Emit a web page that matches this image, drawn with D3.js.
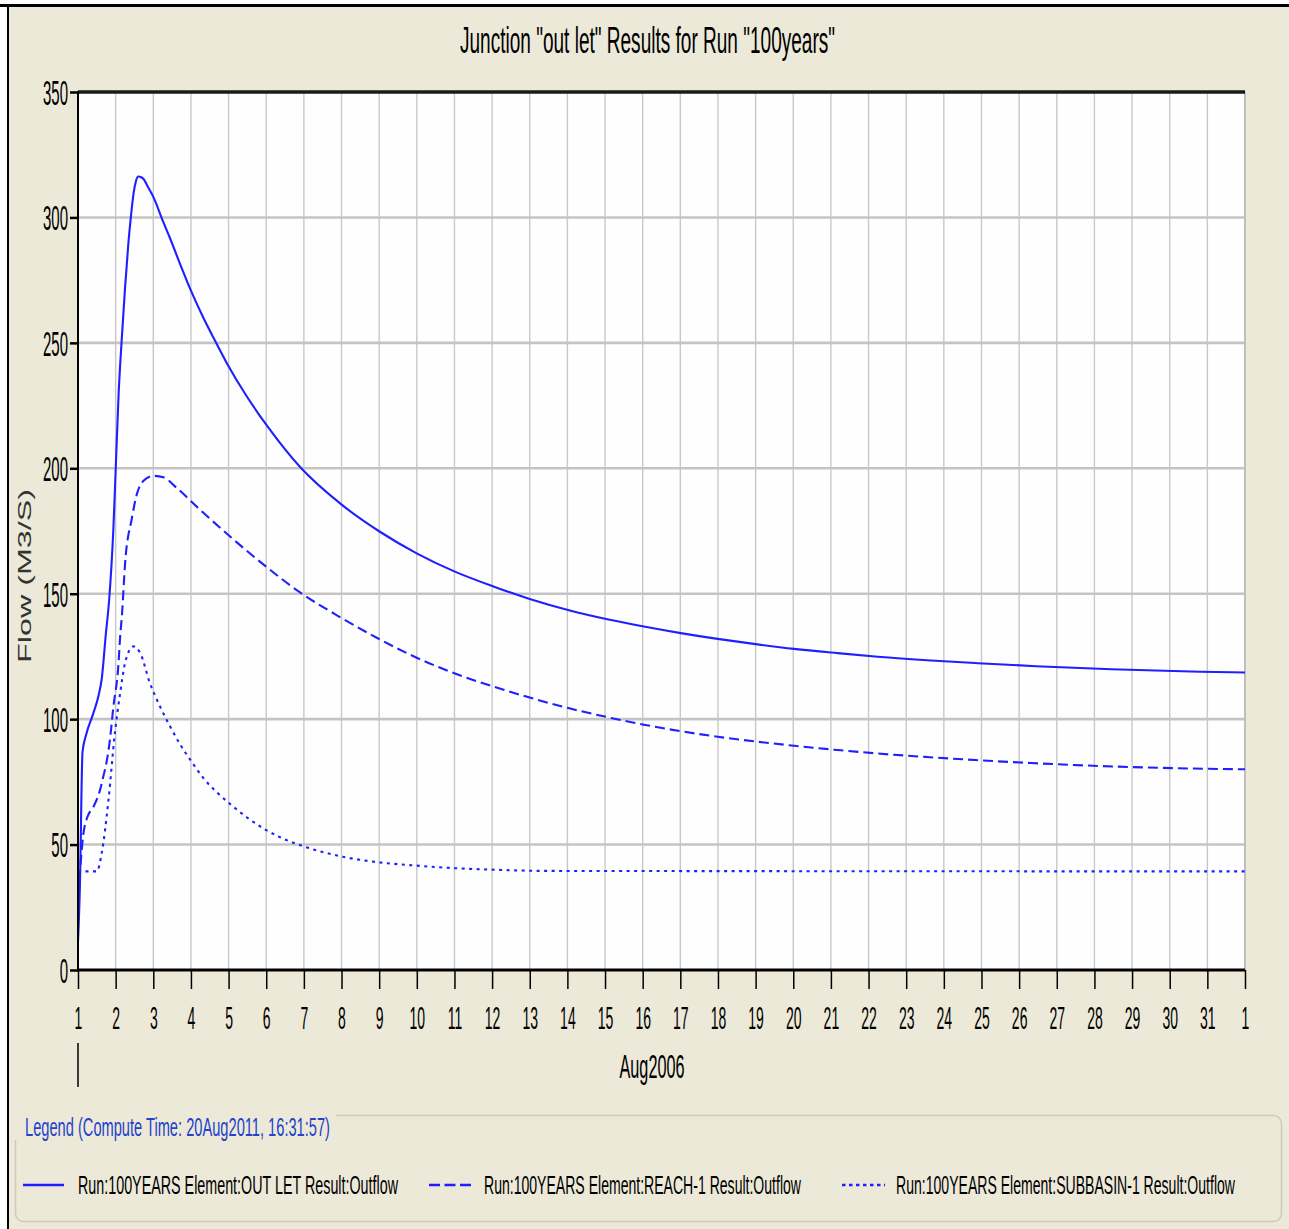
<!DOCTYPE html>
<html>
<head>
<meta charset="utf-8">
<script src="https://cdn.jsdelivr.net/npm/d3@7"></script>
<style>
  html, body { margin: 0; padding: 0; background: #ffffff; }
  svg { display: block; }
  text { font-family: "Liberation Sans", Arial, sans-serif; }
</style>
</head>
<body>
<svg id="chart" width="1289" height="1229"></svg>
<script>
// Flow hydrographs for junction "out let", run "100years" (days since 01Aug2006 00:00, m3/s)
const outletDay = [0.00, 0.05, 0.12, 0.22, 0.40, 0.54, 0.63, 0.74, 0.83, 0.94, 1.01, 1.08, 1.16, 1.25, 1.34, 1.41, 1.48, 1.54, 1.60, 1.68, 1.74, 1.87, 2.00, 2.27, 2.45, 2.71, 2.98, 3.33, 3.60, 3.95, 4.49, 5.02, 5.90, 6.97, 8.03, 9.01, 9.98, 11.05, 12.02, 13.09, 14.06, 15.03, 16.01, 16.99, 18.05, 19.02, 20.18, 21.24, 22.66, 23.91, 25.45, 27.45, 29.81, 31.00];
const outletFlow = [11, 33, 87, 94, 102, 109, 116, 134, 148, 176, 203, 230, 251, 272, 290, 301, 310, 314.5, 316.3, 316, 315.3, 311.8, 308.2, 298, 291.5, 281.5, 271.5, 260, 252, 242, 228.5, 217, 200.5, 185.9, 174.6, 166, 159, 152.8, 147.8, 143.2, 139.8, 136.9, 134.3, 132, 129.8, 128, 126.3, 124.9, 123.4, 122.3, 121.1, 119.9, 118.9, 118.6];

const reachDay = [0.00, 0.05, 0.14, 0.25, 0.41, 0.59, 0.67, 0.76, 0.85, 0.94, 1.07, 1.12, 1.17, 1.25, 1.43, 1.56, 1.74, 2.00, 2.27, 2.62, 3.24, 4.04, 5.02, 5.90, 6.97, 8.03, 9.01, 9.98, 11.05, 12.02, 13.00, 14.06, 15.03, 16.01, 16.99, 18.05, 19.02, 20.18, 21.24, 22.55, 23.83, 25.32, 27.18, 29.63, 31.00];
const reachFlow = [30, 39, 54, 61, 65, 72, 77, 83, 92, 105, 121, 133, 142, 162, 180, 189.5, 195, 197, 196.4, 192.2, 183.5, 172.8, 160.5, 150.5, 140.6, 131.7, 124.4, 118.4, 112.9, 108.5, 104.5, 100.8, 97.8, 95.2, 93, 91, 89.4, 87.7, 86.3, 84.9, 83.7, 82.5, 81.3, 80.3, 80.0];

const subbasinDay = [0.00, 0.50, 0.63, 0.81, 0.98, 1.12, 1.25, 1.47, 1.65, 1.91, 2.18, 2.45, 2.71, 3.02, 3.33, 3.69, 4.04, 4.49, 4.93, 5.37, 5.99, 6.61, 7.15, 7.50, 8.01, 8.99, 10.00, 10.98, 12.50, 31.00];
const subbasinFlow = [39.3, 39.3, 46.6, 67.8, 94.5, 110.4, 122.4, 129, 126.4, 114.4, 105, 97, 90, 83, 76.5, 70.8, 66.2, 60.8, 56.4, 52.9, 49.3, 46.6, 44.8, 43.9, 42.9, 41.6, 40.6, 40.0, 39.5, 39.3];

const flowTicks = [0, 50, 100, 150, 200, 250, 300, 350];
const seriesLabels = [
  "Run:100YEARS Element:OUT LET Result:Outflow",
  "Run:100YEARS Element:REACH-1 Result:Outflow",
  "Run:100YEARS Element:SUBBASIN-1 Result:Outflow"
];
const chartTitle = 'Junction "out let" Results for Run "100years"';
const yLabel = "Flow (M3/S)";
const xLabel = "Aug2006";
const legendTitle = "Legend (Compute Time: 20Aug2011, 16:31:57)";

const start = Date.UTC(2006, 7, 1);
const DAY = 864e5;
const toDate = d => new Date(start + d * DAY);

const svg = d3.select("#chart");
const W = 1289, H = 1229;
const plot = { left: 78, right: 1245, top: 92, bottom: 970 };
const LINE = "#1f1fff";

// window panel and its frame
svg.append("rect").attr("x", 8).attr("y", 5).attr("width", W - 8).attr("height", H - 5).attr("fill", "#ECE9D8");
svg.append("line").attr("x1", 0).attr("x2", W).attr("y1", 5.5).attr("y2", 5.5).attr("stroke", "#000").attr("stroke-width", 3);
svg.append("line").attr("x1", 8).attr("x2", 8).attr("y1", 4).attr("y2", H).attr("stroke", "#000").attr("stroke-width", 2);

// text drawn with a vertical stretch
function sText(parent, x, y, str, size, sy, anchor, opts = {}) {
  const t = parent.append("text")
    .attr("transform", `translate(${x},${y}) scale(1,${sy})`)
    .attr("dy", "0.36em")
    .attr("font-size", size)
    .attr("text-anchor", anchor)
    .attr("fill", opts.fill || "#000")
    .text(str);
  if (opts.length) t.attr("textLength", opts.length).attr("lengthAdjust", "spacingAndGlyphs");
  return t;
}

const x = d3.scaleUtc().domain([toDate(0), toDate(31)]).range([plot.left, plot.right]);
const y = d3.scaleLinear().domain([0, 350]).range([plot.bottom, plot.top]);
const dayTicks = d3.utcDay.range(toDate(0), toDate(31.01));

// plotting area
svg.append("rect").attr("x", plot.left).attr("y", plot.top)
  .attr("width", plot.right - plot.left).attr("height", plot.bottom - plot.top)
  .attr("fill", "#fefefe");

// grid
svg.append("g").selectAll("line").data(dayTicks.slice(1)).join("line")
  .attr("x1", d => x(d)).attr("x2", d => x(d))
  .attr("y1", plot.top).attr("y2", plot.bottom)
  .attr("stroke", "#c8c8c8").attr("stroke-width", 1.4);
svg.append("g").selectAll("line").data(flowTicks.slice(1, -1)).join("line")
  .attr("x1", plot.left).attr("x2", plot.right)
  .attr("y1", d => y(d)).attr("y2", d => y(d))
  .attr("stroke", "#c4c4c4").attr("stroke-width", 2.6);
svg.append("line").attr("x1", plot.right).attr("x2", plot.right)
  .attr("y1", plot.top).attr("y2", plot.bottom)
  .attr("stroke", "#c0c0c0").attr("stroke-width", 2);
svg.append("line").attr("x1", plot.left).attr("x2", plot.right)
  .attr("y1", plot.top).attr("y2", plot.top)
  .attr("stroke", "#1a1a1a").attr("stroke-width", 3.5);

// series
const series = [
  { day: outletDay, flow: outletFlow, dash: null },
  { day: reachDay, flow: reachFlow, dash: "10,5" },
  { day: subbasinDay, flow: subbasinFlow, dash: "3,4.5" }
];
const line = d3.line().x(p => x(p[0])).y(p => y(p[1])).curve(d3.curveMonotoneX);
series.forEach(s => {
  const pts = s.day.map((d, i) => [toDate(d), s.flow[i]]);
  svg.append("path").datum(pts)
    .attr("d", line)
    .attr("fill", "none")
    .attr("stroke", LINE)
    .attr("stroke-width", 2.1)
    .attr("stroke-dasharray", s.dash);
});

// y axis
const yAxis = svg.append("g").attr("transform", `translate(${plot.left},0)`)
  .call(d3.axisLeft(y).tickValues(flowTicks).tickSize(8).tickPadding(2).tickFormat(d3.format("d")));
yAxis.select(".domain").remove();
yAxis.selectAll(".tick line").attr("stroke", "#000").attr("stroke-width", 2.5);
yAxis.selectAll(".tick text")
  .attr("x", -10).attr("y", 0).attr("dy", "0.36em")
  .attr("transform", "scale(1,2.3)")
  .attr("font-size", 15).attr("font-family", "Liberation Sans, Arial, sans-serif").attr("fill", "#000");
svg.append("line").attr("x1", plot.left).attr("x2", plot.left)
  .attr("y1", plot.top - 1).attr("y2", plot.bottom + 1)
  .attr("stroke", "#000").attr("stroke-width", 2);

// x axis
const xAxis = svg.append("g").attr("transform", `translate(0,${plot.bottom})`)
  .call(d3.axisBottom(x).tickValues(dayTicks).tickSize(19).tickFormat(d3.utcFormat("%-d")));
xAxis.select(".domain").remove();
xAxis.selectAll(".tick line").attr("stroke", "#000").attr("stroke-width", 1.5);
xAxis.selectAll(".tick text")
  .attr("y", 0).attr("dy", "0.36em")
  .attr("transform", "translate(0,47) scale(1,2.3)")
  .attr("font-size", 14).attr("font-family", "Liberation Sans, Arial, sans-serif").attr("fill", "#000");
svg.append("line").attr("x1", plot.left - 1).attr("x2", plot.right)
  .attr("y1", plot.bottom).attr("y2", plot.bottom)
  .attr("stroke", "#000").attr("stroke-width", 3);
svg.append("line").attr("x1", plot.left).attr("x2", plot.left)
  .attr("y1", 1043).attr("y2", 1087)
  .attr("stroke", "#000").attr("stroke-width", 1.5);

// titles
sText(svg, 647.5, 40, chartTitle, 19, 1.95, "middle", { length: 375 });
sText(svg, 652, 1066, xLabel, 16, 2.1, "middle", { length: 65 });
svg.append("text")
  .attr("transform", "translate(25,576) scale(1,1.85) rotate(-90)")
  .attr("dy", "0.36em")
  .attr("text-anchor", "middle")
  .attr("font-size", 17.5)
  .attr("fill", "#333")
  .attr("textLength", 94).attr("lengthAdjust", "spacingAndGlyphs")
  .text(yLabel);

// legend
const lg = svg.append("g");
lg.append("rect").attr("x", 15.5).attr("y", 1115.5).attr("width", 1266).attr("height", 106)
  .attr("rx", 8).attr("fill", "none").attr("stroke", "#cfcbbb").attr("stroke-width", 1.5);
lg.append("rect").attr("x", 12).attr("y", 1108).attr("width", 324).attr("height", 32).attr("fill", "#ECE9D8");
sText(lg, 25, 1127, legendTitle, 14.5, 1.75, "start", { fill: "#2442cc", length: 305 });

const legendItems = [
  { x0: 23, x1: 64, tx: 78, len: 320, dash: null },
  { x0: 429, x1: 472, tx: 484, len: 317, dash: "11,4.5" },
  { x0: 842, x1: 885, tx: 896, len: 339, dash: "3.5,3.5" }
];
legendItems.forEach((it, i) => {
  lg.append("line").attr("x1", it.x0).attr("x2", it.x1)
    .attr("y1", 1185).attr("y2", 1185)
    .attr("stroke", LINE).attr("stroke-width", 2.4)
    .attr("stroke-dasharray", it.dash);
  sText(lg, it.tx, 1185, seriesLabels[i], 14.3, 1.75, "start", { length: it.len });
});
</script>
</body>
</html>
